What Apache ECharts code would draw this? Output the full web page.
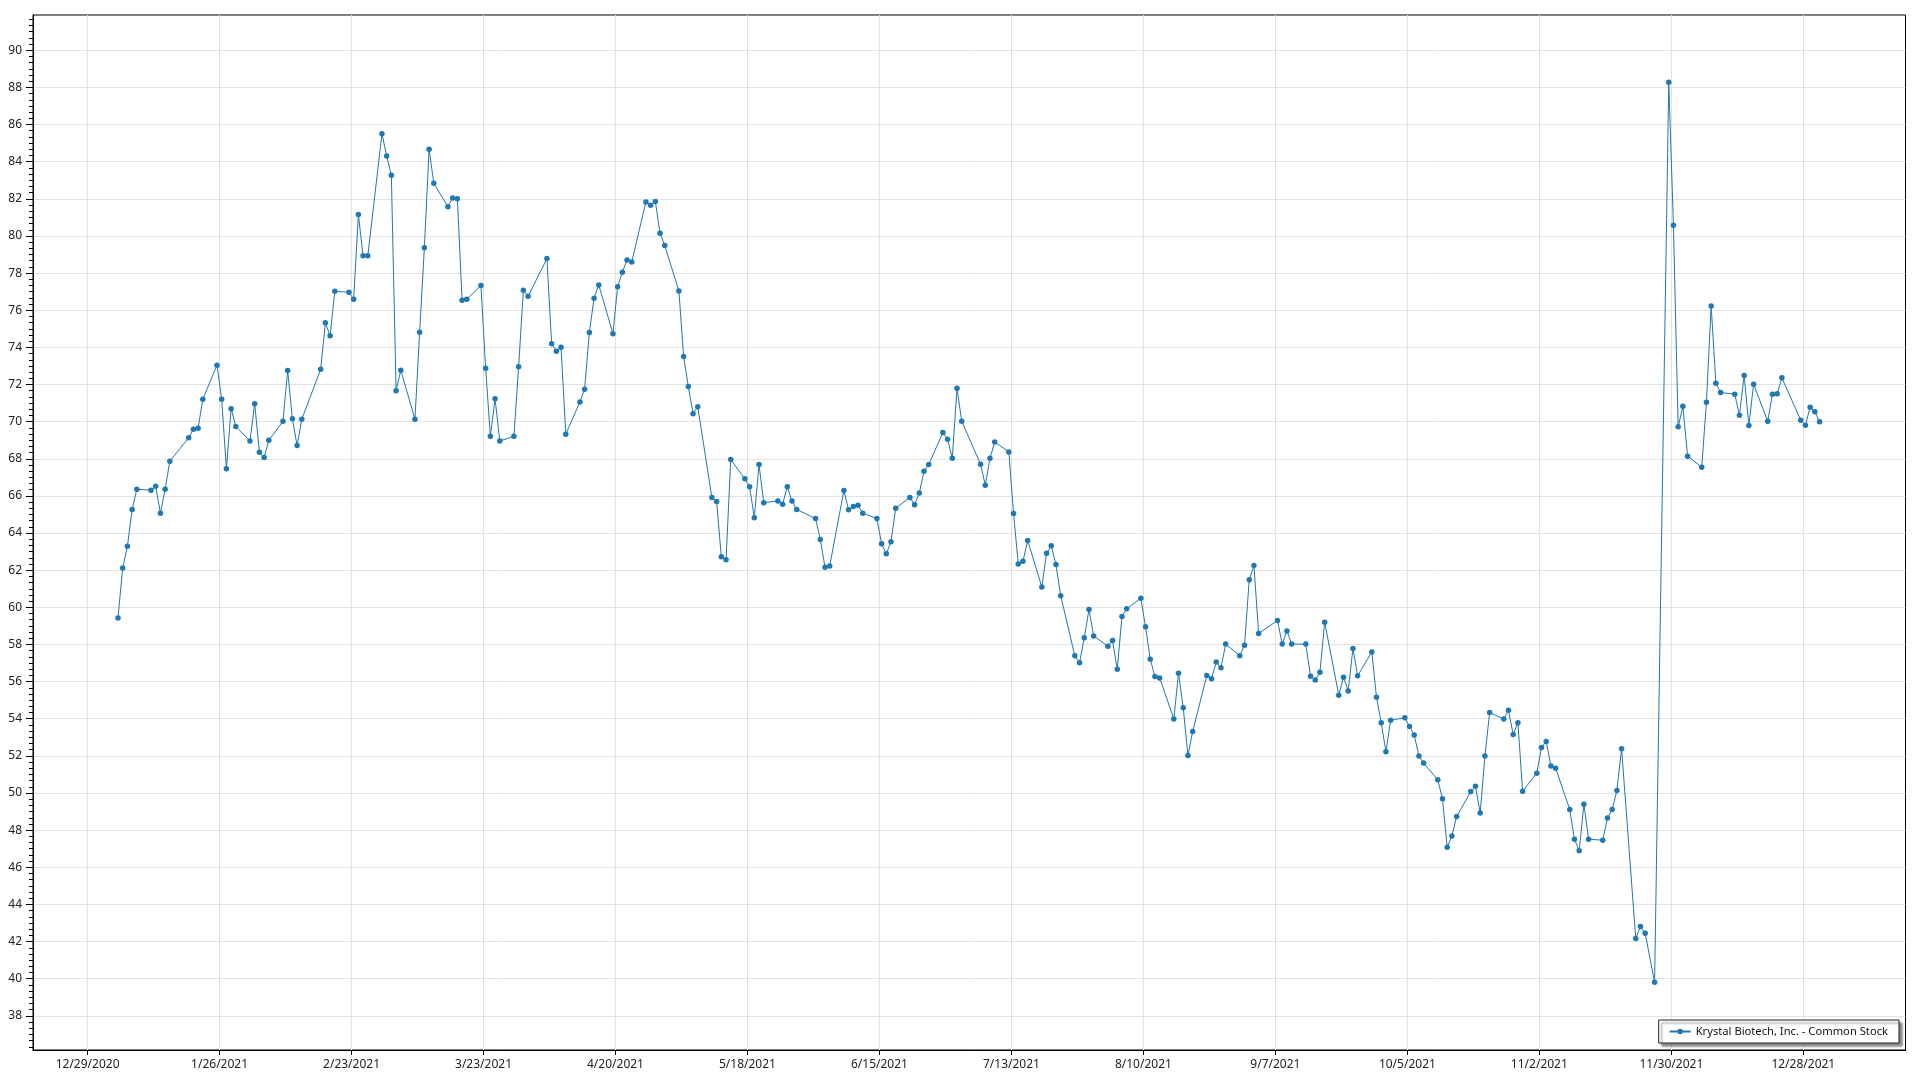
<!DOCTYPE html>
<html><head><meta charset="utf-8">
<script src="https://cdn.jsdelivr.net/npm/echarts@6/dist/echarts.min.js"></script>
<style>html,body{margin:0;padding:0;background:#fff}#c{width:1920px;height:1080px}</style>
</head><body><div id="c"></div>
<script>
const seriesName = 'Krystal Biotech, Inc. - Common Stock';

// Trading days of 2021, day-of-month per month (Jan..Dec)
const tradingDays2021 = [
  [4,5,6,7,8,11,12,13,14,15,19,20,21,22,25,26,27,28,29],
  [1,2,3,4,5,8,9,10,11,12,16,17,18,19,22,23,24,25,26],
  [1,2,3,4,5,8,9,10,11,12,15,16,17,18,19,22,23,24,25,26,29,30,31],
  [1,5,6,7,8,9,12,13,14,15,16,19,20,21,22,23,26,27,28,29,30],
  [3,4,5,6,7,10,11,12,13,14,17,18,19,20,21,24,25,26,27,28],
  [1,2,3,4,7,8,9,10,11,14,15,16,17,18,21,22,23,24,25,28,29,30],
  [1,2,6,7,8,9,12,13,14,15,16,19,20,21,22,23,26,27,28,29,30],
  [2,3,4,5,6,9,10,11,12,13,16,17,18,19,20,23,24,25,26,27,30,31],
  [1,2,3,7,8,9,10,13,14,15,16,17,20,21,22,23,24,27,28,29,30],
  [1,4,5,6,7,8,11,12,13,14,15,18,19,20,21,22,25,26,27,28,29],
  [1,2,3,4,5,8,9,10,11,12,15,16,17,18,19,22,23,24,26,29,30],
  [1,2,3,6,7,8,9,10,13,14,15,16,17,20,21,22,23,27,28,29,30,31]
];

// Closing prices, same order as the trading days above
const pricesJan = [59.43,62.12,63.29,65.27,66.36,66.31,66.52,65.07,66.36,67.87,69.13,69.59,69.65,71.21,73.04,71.21,67.46,70.70,69.74];
const pricesFeb = [68.96,70.97,68.35,68.07,69.00,70.02,72.75,70.15,68.71,70.13,72.82,75.32,74.62,77.02,76.97,76.59,81.15,78.93,78.93];
const pricesMar = [85.50,84.31,83.27,71.67,72.77,70.13,74.82,79.36,84.67,82.84,81.57,82.05,82.01,76.54,76.59,77.33,72.88,69.21,71.23,68.96,69.21,72.95,77.08];
const pricesApr = [76.75,78.78,74.20,73.79,74.01,69.32,71.06,71.75,74.80,76.65,77.36,74.74,77.27,78.05,78.71,78.60,81.83,81.65,81.85,80.15,79.48];
const pricesMay = [77.04,73.51,71.89,70.43,70.80,65.91,65.70,62.72,62.56,67.96,66.92,66.49,64.82,67.69,65.63,65.73,65.55,66.50,65.72,65.27];
const pricesJun = [64.78,63.65,62.16,62.23,66.29,65.25,65.43,65.50,65.07,64.78,63.43,62.88,63.53,65.34,65.91,65.53,66.16,67.33,67.69,69.41,69.05,68.03];
const pricesJul = [71.80,70.02,67.71,66.58,68.03,68.91,68.37,65.05,62.34,62.48,63.60,61.10,62.91,63.31,62.30,60.62,57.39,57.01,58.36,59.88,58.46];
const pricesAug = [57.91,58.21,56.67,59.50,59.92,60.49,58.95,57.21,56.27,56.20,53.99,56.45,54.59,52.02,53.31,56.33,56.16,57.05,56.74,58.02,57.39,57.96];
const pricesSep = [61.48,62.25,58.59,59.29,58.02,58.73,58.02,58.02,56.29,56.08,56.51,59.20,55.27,56.24,55.50,57.78,56.31,57.60,55.16,53.78,52.22];
const pricesOct = [53.92,54.05,53.58,53.13,52.00,51.61,50.71,49.69,47.08,47.68,48.73,50.08,50.36,48.93,51.99,54.33,53.98,54.46,53.15,53.79,50.10];
const pricesNov = [51.07,52.45,52.77,51.46,51.34,49.11,47.51,46.89,49.40,47.51,47.46,48.65,49.11,50.13,52.39,42.16,42.81,42.45,39.81,88.28,80.58];
const pricesDec = [69.72,70.83,68.14,67.55,71.05,76.23,72.07,71.57,71.48,70.35,72.48,69.79,72.02,70.02,71.48,71.50,72.36,70.08,69.81,70.78,70.53,69.99];

const xTickLabels = ['12/29/2020','1/26/2021','2/23/2021','3/23/2021','4/20/2021','5/18/2021','6/15/2021','7/13/2021','8/10/2021','9/7/2021','10/5/2021','11/2/2021','11/30/2021','12/28/2021'];
const yTickLabels = [38,40,42,44,46,48,50,52,54,56,58,60,62,64,66,68,70,72,74,76,78,80,82,84,86,88,90];

const DAY = 86400000;
const FONT = "'Noto Sans', 'Segoe UI', sans-serif";
const priceMonths = [pricesJan,pricesFeb,pricesMar,pricesApr,pricesMay,pricesJun,pricesJul,pricesAug,pricesSep,pricesOct,pricesNov,pricesDec];

const data = [];
tradingDays2021.forEach((days, m) => {
  days.forEach((d, i) => {
    data.push([Date.UTC(2021, m, d) + 0.45 * DAY, priceMonths[m][i]]);
  });
});

function parseMDY(s) { const [m, d, y] = s.split('/').map(Number); return Date.UTC(y, m - 1, d); }
function fmtMDY(v) { const t = new Date(v); return (t.getUTCMonth() + 1) + '/' + t.getUTCDate() + '/' + t.getUTCFullYear(); }

const xTicks = xTickLabels.map(parseMDY);
const origin = xTicks[0];
const xMin = origin - 11.58 * DAY;
const xMax = origin + 385.68 * DAY;
const yMin = 36.16, yMax = 91.9;
const yMinor = [];
for (let k = Math.ceil(yMin * 3); k <= Math.floor(yMax * 3); k++) {
  const v = k / 3;
  if (Math.abs(v / 2 - Math.round(v / 2)) > 1e-6) yMinor.push(v);
}

const chart = echarts.init(document.getElementById('c'), null, { renderer: 'canvas' });
chart.setOption({
  animation: false,
  backgroundColor: '#fff',
  textStyle: { fontFamily: FONT },
  grid: { left: 33, right: 14.5, top: 15, bottom: 30, show: true, borderColor: '#000', borderWidth: 1, backgroundColor: 'transparent' },
  legend: {
    data: [seriesName], right: 21, bottom: 37,
    backgroundColor: '#fff', borderColor: '#222', borderWidth: 1, borderRadius: 0,
    padding: [6, 11, 6, 10], itemWidth: 21, itemHeight: 7,
    textStyle: { fontFamily: FONT, fontSize: 11.2, color: '#111' },
    shadowColor: 'rgba(0,0,0,0.45)', shadowBlur: 2, shadowOffsetX: 3, shadowOffsetY: 3
  },
  xAxis: {
    type: 'value', min: xMin, max: xMax,
    axisLine: { show: true, lineStyle: { color: '#000', width: 1 } },
    axisTick: { show: true, customValues: xTicks, length: 5, lineStyle: { color: '#000' } },
    axisLabel: { customValues: xTicks, formatter: fmtMDY, fontFamily: FONT, fontSize: 12, color: '#222', margin: 9 },
    splitLine: { show: true, lineStyle: { color: '#e2e2e2', width: 1 } }
  },
  yAxis: [{
    type: 'value', min: yMin, max: yMax,
    axisLine: { show: true, lineStyle: { color: '#000', width: 1 } },
    axisTick: { show: true, customValues: yTickLabels, length: 7, lineStyle: { color: '#000' } },
    axisLabel: { customValues: yTickLabels, fontFamily: FONT, fontSize: 12, color: '#222', margin: 11 },
    splitLine: { show: true, lineStyle: { color: '#e2e2e2', width: 1 } }
  }, {
    type: 'value', min: yMin, max: yMax, position: 'left', offset: 0,
    axisLine: { show: false },
    axisTick: { show: true, customValues: yMinor, length: 4, lineStyle: { color: '#000' } },
    axisLabel: { show: false },
    splitLine: { show: false }
  }],
  series: [{
    name: seriesName, type: 'line', data: data, yAxisIndex: 0,
    symbol: 'circle', symbolSize: 5.5, showSymbol: true, showAllSymbol: true,
    color: '#1f77b4', itemStyle: { color: '#1f77b4' },
    lineStyle: { color: '#1f77b4', width: 1 },
    emphasis: { disabled: true }
  }]
});
</script>
</body></html>
